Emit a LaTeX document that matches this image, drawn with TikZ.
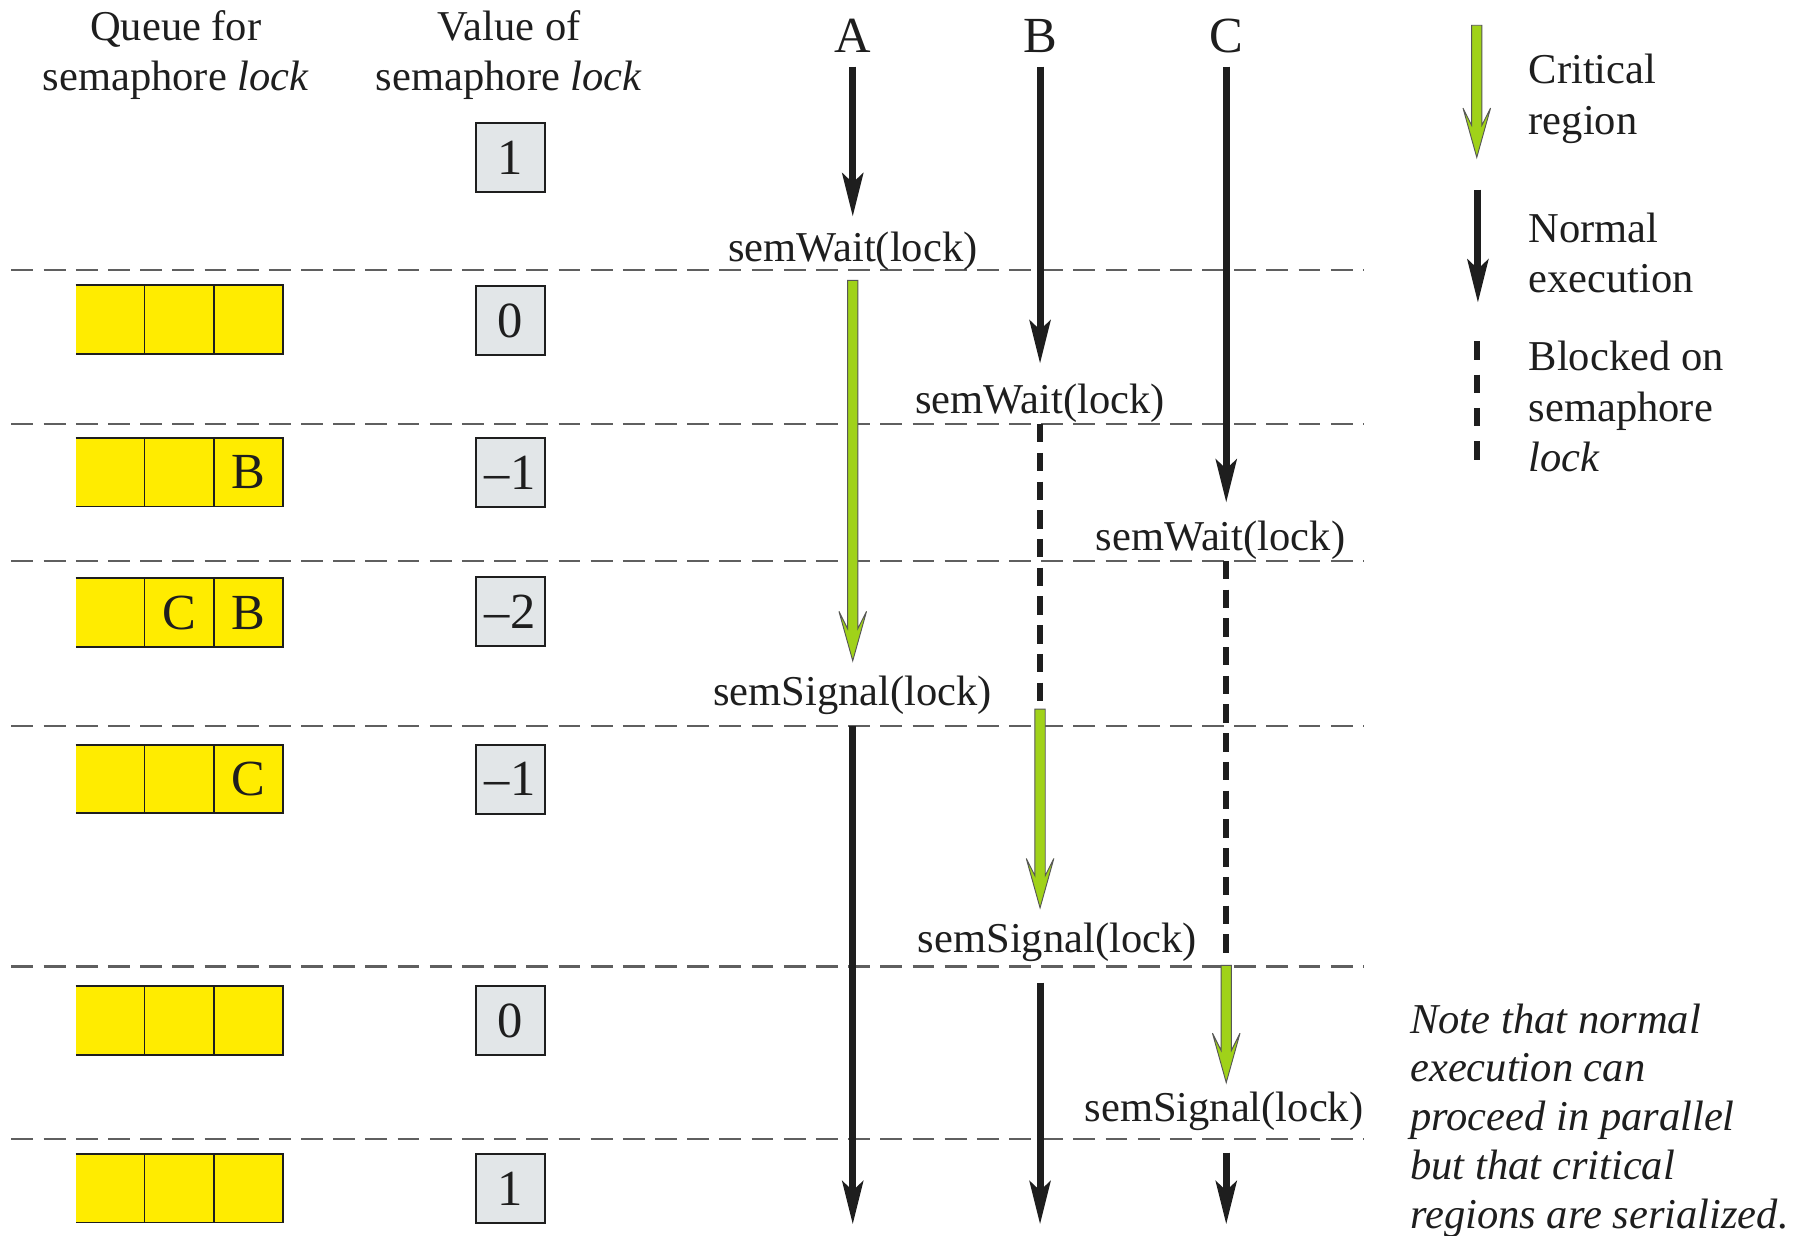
\documentclass[tikz,border=0pt]{standalone}
\usepackage{fontspec}
\setmainfont{Liberation Serif}
\usetikzlibrary{arrows.meta}
\definecolor{qyellow}{RGB}{255,236,0}
\definecolor{vgray}{RGB}{226,230,232}
\definecolor{cgreen}{RGB}{160,210,25}
\definecolor{dashgray}{RGB}{95,95,95}
\definecolor{ink}{RGB}{30,30,30}
\newcommand\critarrow[3]{%
  \filldraw[fill=cgreen, draw=ink!75, line width=0.8pt, line join=miter]
    (#1-4.5,#2) -- (#1+4.5,#2) -- (#1+4.5,#3-28) -- (#1+12,#3-43) -- (#1,#3)
    -- (#1-12,#3-43) -- (#1-4.5,#3-28) -- cycle;}
\begin{document}
\begin{tikzpicture}[x=1pt,y=-1pt,
  txt/.style={font=\fontsize{37}{44}\selectfont, inner sep=0pt, text=ink},
  note/.style={font=\fontsize{37}{42.5}\selectfont\itshape, inner sep=0pt, text=ink, align=left},
  big/.style={font=\fontsize{44}{50}\selectfont, inner sep=0pt, text=ink},
  cell/.style={fill=qyellow, minimum width=60pt, minimum height=59pt, inner sep=0pt, draw=none,
    font=\fontsize{44}{50}\selectfont, text=ink},
  valbox/.style={fill=vgray, draw=ink, line width=1.5pt, minimum size=60pt, inner sep=0pt,
    font=\fontsize{44}{50}\selectfont, text=ink},
  qline/.style={ink, line width=1.6pt},
  sep/.style={dashgray, line width=2pt, dash pattern=on 19pt off 9pt},
  normal/.style={ink, line width=6pt, -{Stealth[length=38pt,width=19pt,inset=9pt,line width=0pt]}},
  blocked/.style={ink, line width=5.5pt, dash pattern=on 16pt off 9pt},
]
\useasboundingbox (0,0) rectangle (1568,1075);
\fill[white] (0,0) rectangle (1568,1075);

% headers
\node[txt, align=center] (hq) at (153,48) {Queue for\\semaphore \textit{lock}};
\node[txt, align=center] (hv) at (443,48) {Value of\\semaphore \textit{lock}};
\node[big] (hA) at (742,31) {A};
\node[big] (hB) at (905,31) {B};
\node[big] (hC) at (1067,31) {C};

% separators
\foreach \y [count=\i] in {235,369,488,632,841,991}{
  \coordinate (sL\i) at (10,\y);
  \coordinate (sR\i) at (1187,\y);
  \draw[sep] (sL\i) -- (sR\i);
}

% value boxes
\foreach \y/\v [count=\i] in {137/1,279/0,411/\textendash1,532/\textendash2,678/\textendash1,888/0,1034/1}{
  \node[valbox] (v\i) at (444,\y) {\v};
}

% queues
\foreach \y/\a/\b/\c [count=\i] in {278/{}/{}/{},411/{}/{}/B,533/{}/C/B,678/{}/{}/C,888/{}/{}/{},1034/{}/{}/{}}{
  \node[cell] (q\i a) at (96,\y) {\a};
  \node[cell] (q\i b) at (156,\y) {\b};
  \node[cell] (q\i c) at (216,\y) {\c};
  \draw[qline] (q\i a.north west) -- (q\i c.north east) -- (q\i c.south east) -- (q\i a.south west);
  \draw[qline] (q\i b.north west) -- (q\i b.south west);
  \draw[qline] (q\i b.north east) -- (q\i b.south east);
}

% process A
\coordinate (A0) at (742,58);  \coordinate (A1) at (742,188);
\coordinate (A2) at (742,632); \coordinate (A3) at (742,1065);
\draw[normal] (A0) -- (A1);
\node[txt] (wA) at (742,219) {semWait(lock)};
\critarrow{742}{244}{575}
\node[txt] (sA) at (742,605) {semSignal(lock)};
\draw[normal] (A2) -- (A3);

% process B
\coordinate (B0) at (905,58);  \coordinate (B1) at (905,316);
\coordinate (B2) at (905,369); \coordinate (B3) at (905,613);
\coordinate (B4) at (905,855); \coordinate (B5) at (905,1065);
\draw[normal] (B0) -- (B1);
\node[txt] (wB) at (905,351) {semWait(lock)};
\draw[blocked] (B2) -- (B3);
\critarrow{905}{617}{790}
\node[txt] (sB) at (920,820) {semSignal(lock)};
\draw[normal] (B4) -- (B5);

% process C
\coordinate (C0) at (1067,58);  \coordinate (C1) at (1067,437);
\coordinate (C2) at (1067,488); \coordinate (C3) at (1067,835);
\coordinate (C4) at (1067,1003); \coordinate (C5) at (1067,1065);
\draw[normal] (C0) -- (C1);
\node[txt] (wC) at (1062,470) {semWait(lock)};
\draw[blocked] (C2) -- (C3);
\critarrow{1067}{840}{942}
\node[txt] (sC) at (1065,967) {semSignal(lock)};
\draw[normal] (C4) -- (C5);

% legend
\critarrow{1285}{22}{137}
\node[txt, anchor=west, align=left] (lg1) at (1330,86) {Critical\\region};
\coordinate (L0) at (1286,165); \coordinate (L1) at (1286,263);
\draw[normal] (L0) -- (L1);
\node[txt, anchor=west, align=left] (lg2) at (1330,220) {Normal\\execution};
\coordinate (L2) at (1285,297); \coordinate (L3) at (1285,400);
\draw[blocked, dash pattern=on 16pt off 13pt] (L2) -- (L3);
\node[txt, anchor=west, align=left] (lg3) at (1330,354) {Blocked on\\semaphore\\\textit{lock}};

% note
\node[note, anchor=west] (nt) at (1227,975) {Note that normal\\execution can\\proceed in parallel\\but that critical\\regions are serialized.};
\end{tikzpicture}
\end{document}
